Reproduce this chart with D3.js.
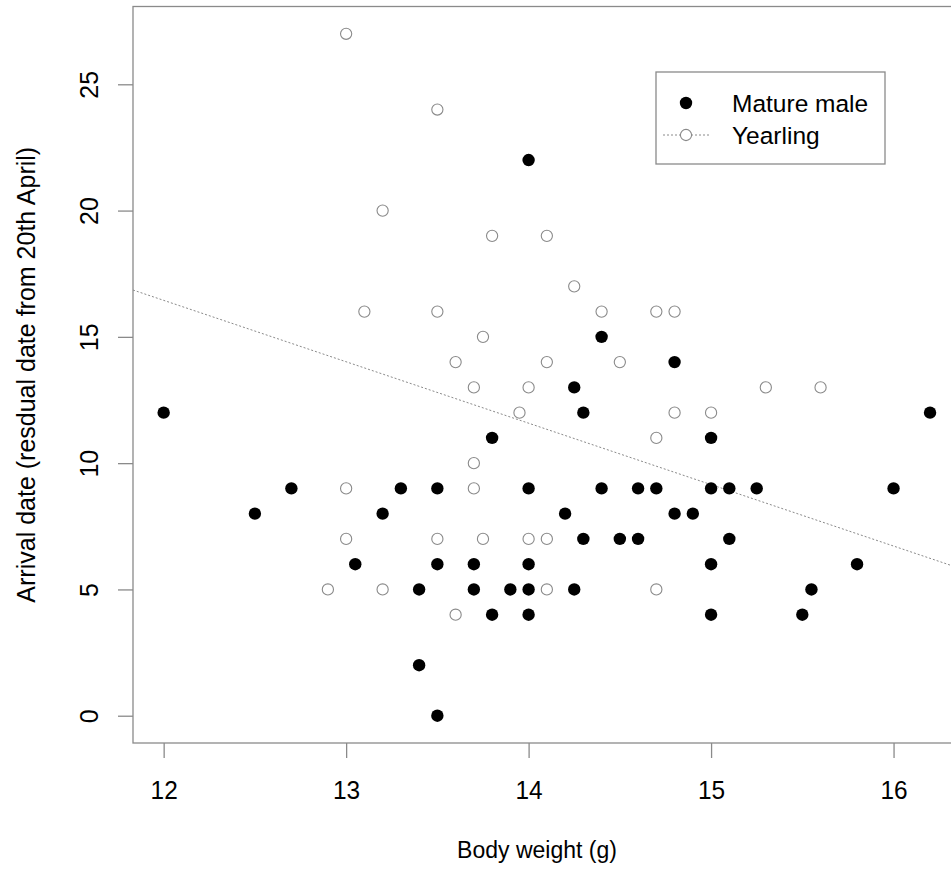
<!DOCTYPE html>
<html>
<head>
<meta charset="utf-8">
<script src="https://cdn.jsdelivr.net/npm/d3@7"></script>
<style>
  html, body { margin: 0; padding: 0; background: #fff; }
  svg { display: block; font-family: "Liberation Sans", Arial, sans-serif; }
</style>
</head>
<body>
<svg id="chart" width="951" height="869"></svg>
<script>
// ---- Data ----
const matureX = [12, 12.5, 12.7, 13.05, 13.2, 13.3, 13.4, 13.4, 13.5, 13.5, 13.5, 13.7, 13.7, 13.8, 13.8, 13.9,
                 14, 14, 14, 14, 14, 14.2, 14.25, 14.25, 14.3, 14.3, 14.4, 14.4, 14.5, 14.6, 14.6, 14.7,
                 14.8, 14.8, 14.9, 15, 15, 15, 15, 15.1, 15.1, 15.25, 15.5, 15.55, 15.8, 16, 16.2];
const matureY = [12, 8, 9, 6, 8, 9, 5, 2, 9, 6, 0, 6, 5, 11, 4, 5,
                 22, 9, 6, 5, 4, 8, 13, 5, 12, 7, 15, 9, 7, 9, 7, 9,
                 14, 8, 8, 11, 9, 6, 4, 9, 7, 9, 4, 5, 6, 9, 12];
const yearlingX = [12.9, 13, 13, 13, 13.1, 13.2, 13.2, 13.5, 13.5, 13.5, 13.6, 13.6, 13.7, 13.7, 13.7, 13.75,
                   13.75, 13.8, 13.95, 14, 14, 14.1, 14.1, 14.1, 14.1, 14.25, 14.4, 14.5, 14.7, 14.7, 14.7,
                   14.8, 14.8, 15, 15.3, 15.6];
const yearlingY = [5, 27, 9, 7, 16, 20, 5, 24, 16, 7, 14, 4, 13, 10, 9, 15,
                   7, 19, 12, 13, 7, 19, 14, 7, 5, 17, 16, 14, 16, 11, 5,
                   16, 12, 12, 13, 13];
const xTicks = [12, 13, 14, 15, 16];
const yTicks = [0, 5, 10, 15, 20, 25];
const lineIntercept = 45.63;   // fitted line (Yearling)
const lineSlope = -2.432;
const legendLabels = ["Mature male", "Yearling"];
const xTitle = "Body weight (g)";
const yTitle = "Arrival date (resdual date from 20th April)";

// ---- Layout ----
const pL = 133, pR = 960.7, pT = 6.5, pB = 743;
const x = d3.scaleLinear().domain([11.832, 16.368]).range([pL, pR]);
const y = d3.scaleLinear().domain([-1.08, 28.08]).range([pB, pT]);
const grey = "#8a8a8a";

const svg = d3.select("#chart");
svg.append("rect").attr("width", 951).attr("height", 869).attr("fill", "#fff");

svg.append("defs").append("clipPath").attr("id", "plotclip")
  .append("rect").attr("x", pL).attr("y", pT).attr("width", pR - pL).attr("height", pB - pT);

// box
svg.append("rect").attr("x", pL).attr("y", pT).attr("width", pR - pL).attr("height", pB - pT)
  .attr("fill", "none").attr("stroke", grey).attr("stroke-width", 1.3);

// x axis
const xAxis = d3.axisBottom(x).tickValues(xTicks).tickSize(15).tickFormat(d3.format("d"));
const gx = svg.append("g").attr("transform", `translate(0,${pB})`).call(xAxis);
gx.select(".domain").remove();
gx.selectAll(".tick line").attr("stroke", grey).attr("stroke-width", 1.3);
gx.selectAll(".tick text").attr("fill", "#000").attr("font-size", 26)
  .attr("font-family", "Liberation Sans, Arial, sans-serif").attr("dy", null)
  .attr("y", 0).attr("transform", "translate(0,56) scale(0.94,1)");

// y axis
const yAxis = d3.axisLeft(y).tickValues(yTicks).tickSize(15).tickFormat(d3.format("d"));
const gy = svg.append("g").attr("transform", `translate(${pL},0)`).call(yAxis);
gy.select(".domain").remove();
gy.selectAll(".tick line").attr("stroke", grey).attr("stroke-width", 1.3);
gy.selectAll(".tick text").attr("fill", "#000").attr("font-size", 25)
  .attr("font-family", "Liberation Sans, Arial, sans-serif")
  .attr("x", null).attr("dy", null).attr("text-anchor", "middle")
  .attr("transform", "translate(-35,0) rotate(-90)");

// titles
svg.append("text").attr("x", 537).attr("y", 858).attr("text-anchor", "middle")
  .attr("font-size", 23).text(xTitle);
svg.append("text").attr("transform", `translate(35,${(pT + pB) / 2}) rotate(-90)`)
  .attr("text-anchor", "middle").attr("font-size", 25).text(yTitle);

// regression line
const plot = svg.append("g").attr("clip-path", "url(#plotclip)");
const xs = x.domain();
plot.append("line")
  .attr("x1", x(xs[0])).attr("y1", y(lineIntercept + lineSlope * xs[0]))
  .attr("x2", x(xs[1])).attr("y2", y(lineIntercept + lineSlope * xs[1]))
  .attr("stroke", grey).attr("stroke-width", 1).attr("stroke-dasharray", "2,2");

// points
const yearling = yearlingX.map((v, i) => ({ x: v, y: yearlingY[i] }));
const mature = matureX.map((v, i) => ({ x: v, y: matureY[i] }));
plot.selectAll("circle.yr").data(yearling).join("circle").attr("class", "yr")
  .attr("cx", d => x(d.x)).attr("cy", d => y(d.y)).attr("r", 5.6)
  .attr("fill", "#fff").attr("stroke", grey).attr("stroke-width", 1.1);
plot.selectAll("circle.mm").data(mature).join("circle").attr("class", "mm")
  .attr("cx", d => x(d.x)).attr("cy", d => y(d.y)).attr("r", 6.2)
  .attr("fill", "#000");

// legend
const lg = svg.append("g");
lg.append("rect").attr("x", 656).attr("y", 72).attr("width", 229).attr("height", 92)
  .attr("fill", "#fff").attr("stroke", grey).attr("stroke-width", 1.3);
lg.append("circle").attr("cx", 686).attr("cy", 103).attr("r", 6.2).attr("fill", "#000");
lg.append("line").attr("x1", 663).attr("x2", 709).attr("y1", 135).attr("y2", 135)
  .attr("stroke", grey).attr("stroke-width", 1).attr("stroke-dasharray", "2,2");
lg.append("circle").attr("cx", 686).attr("cy", 135).attr("r", 5.6)
  .attr("fill", "#fff").attr("stroke", grey).attr("stroke-width", 1.1);
lg.selectAll("text.lt").data(legendLabels).join("text").attr("class", "lt")
  .attr("x", 732).attr("y", (d, i) => 112 + i * 32).attr("font-size", 24.5).text(d => d);
</script>
</body>
</html>
